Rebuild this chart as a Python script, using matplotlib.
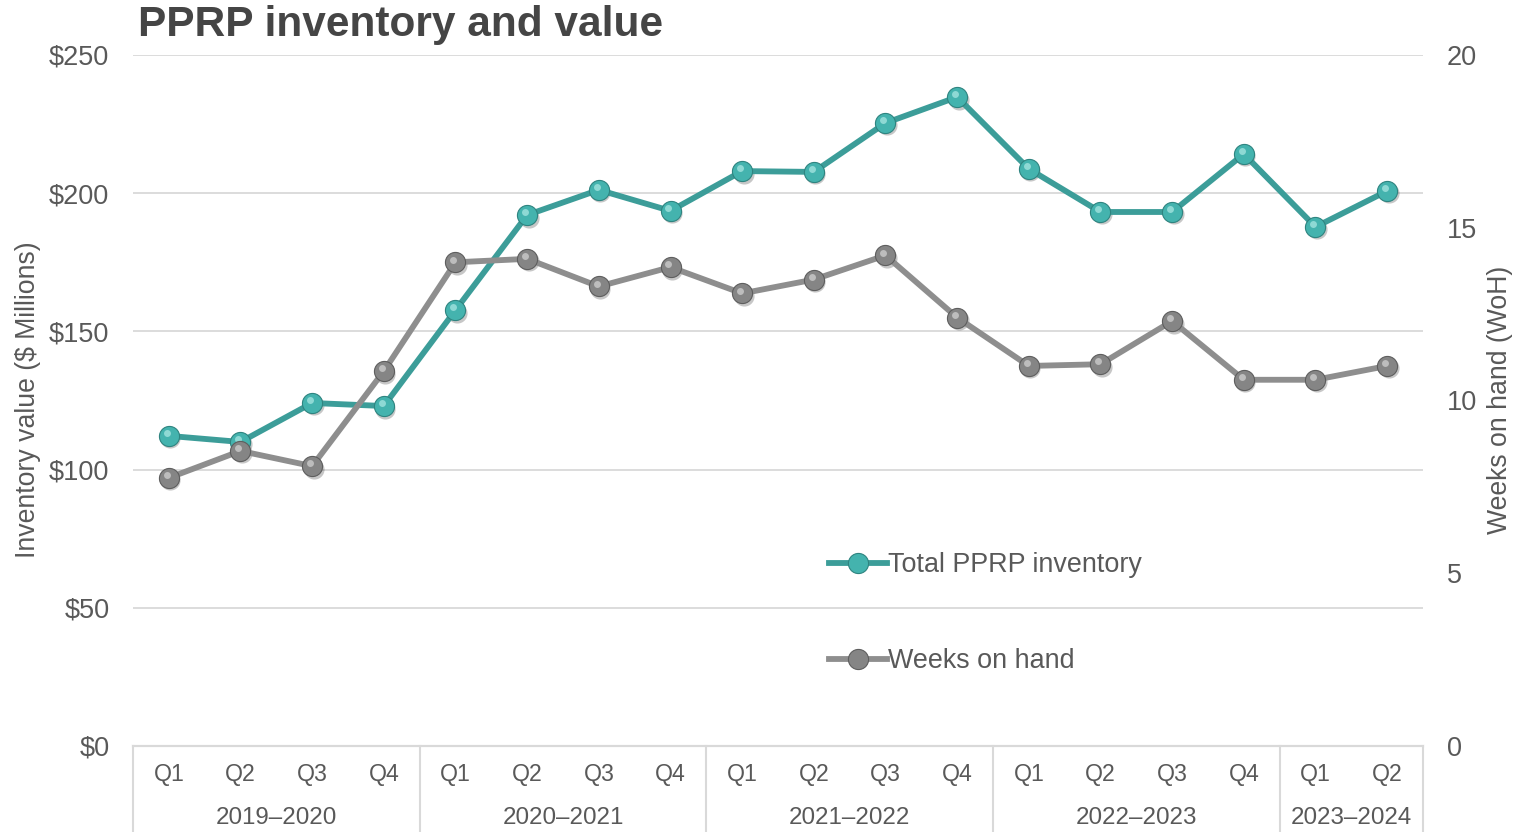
import matplotlib
matplotlib.use("Agg")
import matplotlib.pyplot as plt
from matplotlib.transforms import blended_transform_factory, offset_copy

plt.rcParams['font.family'] = ['Liberation Sans', 'DejaVu Sans']

quarters = ["Q1", "Q2", "Q3", "Q4", "Q1", "Q2", "Q3", "Q4", "Q1", "Q2", "Q3", "Q4",
            "Q1", "Q2", "Q3", "Q4", "Q1", "Q2"]
years = ["2019–2020", "2020–2021", "2021–2022", "2022–2023", "2023–2024"]
year_sizes = [4, 4, 4, 4, 2]
inventory = [112.2, 110.0, 124.1, 123.0, 157.7, 192.1, 201.2, 193.6, 208.0, 207.7,
             225.4, 234.8, 208.8, 193.2, 193.2, 214.2, 187.8, 200.8]
weeks = [7.76, 8.54, 8.10, 10.85, 14.0, 14.1, 13.3, 13.86, 13.1, 13.5,
         14.2, 12.4, 11.0, 11.05, 12.3, 10.6, 10.6, 11.0]

teal_line = "#3c9d99"
teal_mark = "#44b3ae"
gray_line = "#8e8e8e"
gray_mark = "#858585"
txt = "#595959"
grid = "#d9d9d9"

fig = plt.figure(figsize=(15.21, 8.32), dpi=100)
ax = fig.add_axes([133/1521, 86/832, 1290/1521, 691/832])
ax2 = ax.twinx()

x = list(range(len(quarters)))


def draw_series(a, y, lc, mc, ec, hc, label):
    sh = offset_copy(a.transData, fig=fig, x=1.2, y=-1.8, units='points')
    a.plot(x, y, ls="none", marker="o", ms=14.5, mfc="#000000", mec="none",
           alpha=0.22, zorder=2, transform=sh)
    a.plot(x, y, color=lc, lw=4.2, marker="o", ms=14.5, mfc=mc, mec=ec, mew=0.8,
           zorder=3, label=label)
    hl = offset_copy(a.transData, fig=fig, x=-1.5, y=2.0, units='points')
    a.plot(x, y, ls="none", marker="o", ms=5, mfc=hc, mec="none",
           alpha=0.75, zorder=4, transform=hl)


draw_series(ax, inventory, teal_line, teal_mark, "#2f8480", "#a8e6e2", "Total PPRP inventory")
draw_series(ax2, weeks, gray_line, gray_mark, "#5e5e5e", "#d0d0d0", "Weeks on hand")

ax.set_xlim(-0.5, len(quarters) - 0.5)
ax.set_ylim(0, 250)
ax2.set_ylim(0, 20)
ax.set_yticks([0, 50, 100, 150, 200, 250])
ax.set_yticklabels([f"${v}" for v in [0, 50, 100, 150, 200, 250]])
ax2.set_yticks([0, 5, 10, 15, 20])
ax.grid(axis="y", color=grid, lw=1.3)
ax.set_axisbelow(True)

for a in (ax, ax2):
    for s in ("top", "left", "right"):
        a.spines[s].set_visible(False)
    a.spines["bottom"].set_color(grid)
    a.spines["bottom"].set_linewidth(1.5)
    a.tick_params(axis="y", length=0, labelsize=19.5, labelcolor=txt, pad=17)

ax.set_xticks(x)
ax.set_xticklabels(quarters)
ax.tick_params(axis="x", length=0, labelsize=16.7, labelcolor=txt, pad=12.5)

trans = blended_transform_factory(ax.transData, ax.transAxes)
pos = -0.5
bounds = [pos]
for name, n in zip(years, year_sizes):
    ax.text(pos + n / 2, -0.1035, name, transform=trans, ha="center", va="center",
            fontsize=17.4, color=txt)
    pos += n
    bounds.append(pos)
for b in bounds:
    ax.plot([b, b], [0, -0.13], transform=trans, color=grid, lw=1.5, clip_on=False)

fig.text(28/1521, 1 - 400/832, "Inventory value ($ Millions)", rotation=90, fontsize=19.2,
         color=txt, ha="center", va="center")
fig.text(1500/1521, 1 - 400/832, "Weeks on hand (WoH)", rotation=90, fontsize=19.2,
         color=txt, ha="center", va="center")

h1, l1 = ax.get_legend_handles_labels()
h2, l2 = ax2.get_legend_handles_labels()
ax2.legend(h1 + h2, l1 + l2, loc="center left", bbox_to_anchor=(0.5395, 0.192),
           frameon=False, fontsize=19.4, labelcolor=txt, handlelength=2.15,
           handletextpad=0.05, labelspacing=2.6, borderpad=0, borderaxespad=0)

fig.text(138/1521, 1 - 25/832, "PPRP inventory and value", fontsize=30.5, fontweight="bold",
         color="#454545", ha="left", va="center")

fig.savefig("out.png", dpi=100)
